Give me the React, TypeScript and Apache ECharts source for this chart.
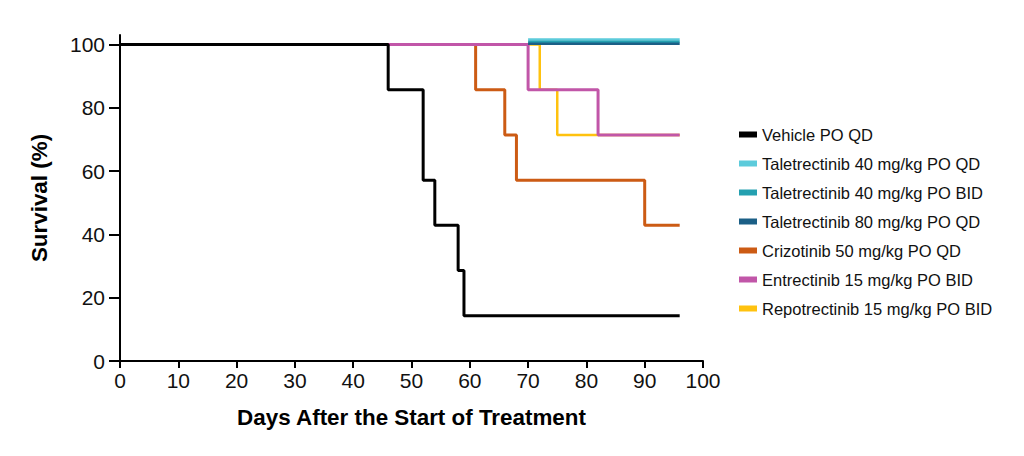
import React, { useEffect, useRef } from "react";
import * as echarts from "echarts";

// Kaplan-Meier step points [day, survival %]
const vehicle: [number, number][] = [[0, 100], [46, 85.7], [52, 57.1], [54, 42.9], [58, 28.6], [59, 14.3], [96, 14.3]];
// Taletrectinib groups stay at 100 %; drawn slightly offset in the figure so all three are visible
const taleQd40: [number, number][] = [[70, 101.6], [96, 101.6]];
const taleBid40: [number, number][] = [[70, 100.9], [96, 100.9]];
const taleQd80: [number, number][] = [[70, 100.2], [96, 100.2]];
const crizotinib: [number, number][] = [[0, 100], [61, 85.7], [66, 71.4], [68, 57.1], [90, 42.9], [96, 42.9]];
const entrectinib: [number, number][] = [[46, 100], [70, 85.7], [82, 71.4], [96, 71.4]];
const repotrectinib: [number, number][] = [[46, 100], [72, 85.7], [75, 71.4], [96, 71.4]];

const seriesNames = [
  "Vehicle PO QD",
  "Taletrectinib 40 mg/kg PO QD",
  "Taletrectinib 40 mg/kg PO BID",
  "Taletrectinib 80 mg/kg PO QD",
  "Crizotinib 50 mg/kg PO QD",
  "Entrectinib 15 mg/kg PO BID",
  "Repotrectinib 15 mg/kg PO BID",
];
const yTicks = [0, 20, 40, 60, 80, 100];

const FONT = "'Liberation Sans', Arial, Helvetica, sans-serif";

export default function App() {
  const ref = useRef<HTMLDivElement>(null);
  useEffect(() => {
    if (!ref.current) return;
    const chart = echarts.init(ref.current, undefined, { renderer: "svg" });
    const mk = (name: string, data: [number, number][], color: string, width: number, z: number) => ({
      name,
      type: "line",
      step: "end",
      data,
      color,
      showSymbol: false,
      symbol: "none",
      lineStyle: { color, width },
      z,
      silent: true,
    });
    chart.setOption({
      animation: false,
      textStyle: { fontFamily: FONT },
      grid: { left: 120, right: 321, top: 35, bottom: 95, containLabel: false },
      legend: {
        orient: "vertical",
        left: 734,
        top: 121,
        icon: "rect",
        itemWidth: 18,
        itemHeight: 6,
        itemGap: 12,
        data: seriesNames,
        textStyle: { fontFamily: FONT, fontSize: 16.5, color: "#111" },
        selectedMode: false,
      },
      xAxis: {
        type: "value",
        min: 0,
        max: 100,
        interval: 10,
        name: "Days After the Start of Treatment",
        nameLocation: "middle",
        nameGap: 45,
        nameTextStyle: { fontFamily: FONT, fontSize: 22.4, fontWeight: "bold", color: "#000" },
        axisLine: { show: true, lineStyle: { color: "#000", width: 2 } },
        axisTick: { show: true, length: 7, lineStyle: { color: "#000", width: 2 } },
        axisLabel: { margin: 9, fontFamily: FONT, fontSize: 21, color: "#111" },
        splitLine: { show: false },
      },
      yAxis: {
        type: "value",
        min: 0,
        max: 103,
        name: "Survival (%)",
        nameLocation: "middle",
        nameGap: 70,
        nameTextStyle: { fontFamily: FONT, fontSize: 22.4, fontWeight: "bold", color: "#000" },
        axisLine: { show: true, lineStyle: { color: "#000", width: 2 } },
        axisTick: { show: true, length: 11, customValues: yTicks, lineStyle: { color: "#000", width: 2 } },
        axisLabel: { margin: 15, fontFamily: FONT, fontSize: 21, color: "#111", customValues: yTicks },
        splitLine: { show: false },
      },
      series: [
        mk(seriesNames[6], repotrectinib, "#ffc20f", 2.5, 2),
        mk(seriesNames[4], crizotinib, "#cc5b14", 3, 3),
        mk(seriesNames[5], entrectinib, "#c156a8", 3, 4),
        mk(seriesNames[1], taleQd40, "#5ccbdb", 2.5, 5),
        mk(seriesNames[2], taleBid40, "#24a0b0", 2.5, 6),
        mk(seriesNames[3], taleQd80, "#1b5f86", 2.5, 7),
        mk(seriesNames[0], vehicle, "#000000", 3, 8),
      ],
    });
    return () => chart.dispose();
  }, []);
  return (
    <div
      ref={ref}
      style={{ position: "fixed", left: 0, top: 0, width: 1024, height: 456, background: "#fff" }}
    />
  );
}
